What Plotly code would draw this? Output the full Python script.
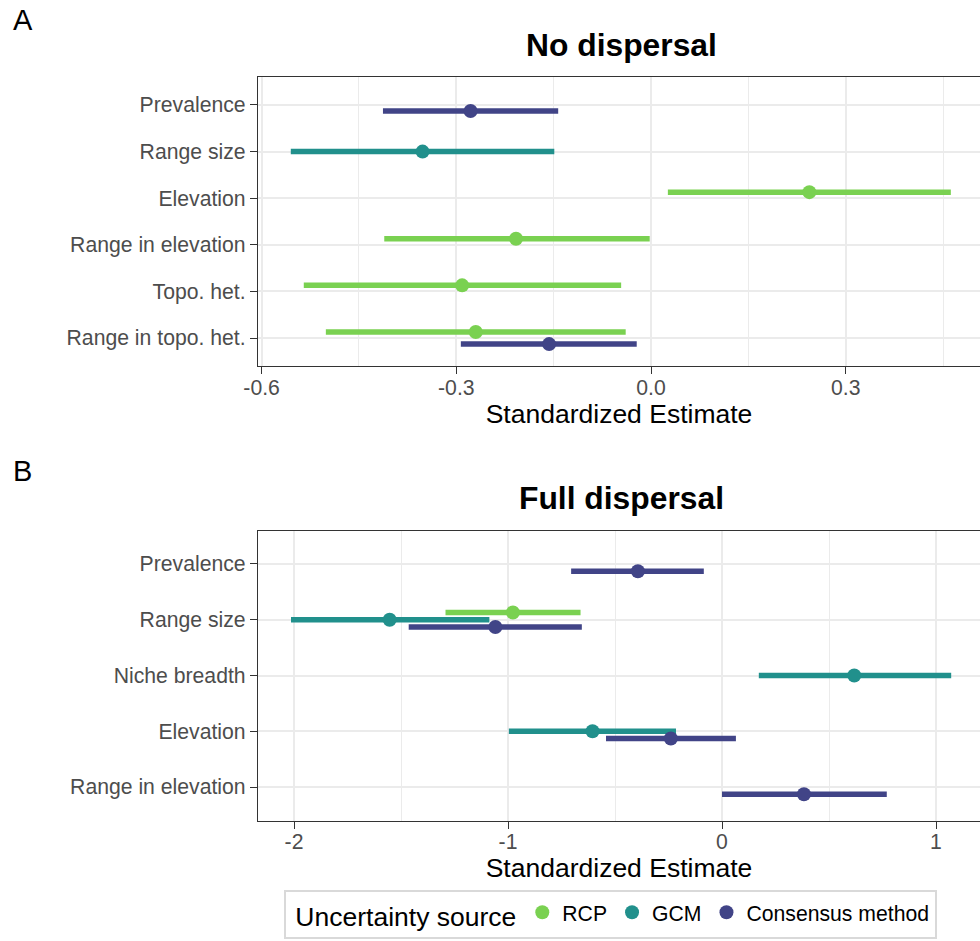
import plotly.graph_objects as go

# ---------------- data ----------------
# Panel A: No dispersal
cats_A = ["Prevalence", "Range size", "Elevation", "Range in elevation", "Topo. het.", "Range in topo. het."]
A_rcp_cat = ["Elevation", "Range in elevation", "Topo. het.", "Range in topo. het."]
A_rcp_est = [0.244, -0.208, -0.291, -0.270]
A_rcp_lo = [0.026, -0.411, -0.535, -0.501]
A_rcp_hi = [0.462, -0.002, -0.046, -0.039]
A_gcm_cat = ["Range size"]
A_gcm_est = [-0.352]
A_gcm_lo = [-0.555]
A_gcm_hi = [-0.149]
A_con_cat = ["Prevalence", "Range in topo. het."]
A_con_est = [-0.278, -0.157]
A_con_lo = [-0.413, -0.293]
A_con_hi = [-0.143, -0.022]
A_xticks = [-0.6, -0.3, 0.0, 0.3]
A_xticklabels = ["-0.6", "-0.3", "0.0", "0.3"]
A_xminor = [-0.45, -0.15, 0.15, 0.45]

# Panel B: Full dispersal
cats_B = ["Prevalence", "Range size", "Niche breadth", "Elevation", "Range in elevation"]
B_rcp_cat = ["Range size"]
B_rcp_est = [-0.977]
B_rcp_lo = [-1.292]
B_rcp_hi = [-0.661]
B_gcm_cat = ["Range size", "Niche breadth", "Elevation"]
B_gcm_est = [-1.553, 0.618, -0.605]
B_gcm_lo = [-2.014, 0.172, -0.996]
B_gcm_hi = [-1.087, 1.071, -0.215]
B_con_cat = ["Prevalence", "Range size", "Elevation", "Range in elevation"]
B_con_est = [-0.393, -1.059, -0.239, 0.383]
B_con_lo = [-0.705, -1.464, -0.542, 0.000]
B_con_hi = [-0.085, -0.655, 0.065, 0.770]
B_xticks = [-2, -1, 0, 1]
B_xticklabels = ["-2", "-1", "0", "1"]
B_xminor = [-1.5, -0.5, 0.5]

sources = ["RCP", "GCM", "Consensus method"]

# ---------------- style ----------------
FONT = "Liberation Sans, Arial, Helvetica, sans-serif"
W, H = 980, 941
colors = {"RCP": "#7AD151", "GCM": "#21908C", "Consensus method": "#414487"}
dodge = {"RCP": 0.13, "GCM": 0.0, "Consensus method": -0.13}
BASE = 26.5


def px(v):
    return v / W


def py(v):
    return 1 - v / H


fig = go.Figure()

panels = [
    ("", cats_A, {
        "RCP": (A_rcp_cat, A_rcp_est, A_rcp_lo, A_rcp_hi),
        "GCM": (A_gcm_cat, A_gcm_est, A_gcm_lo, A_gcm_hi),
        "Consensus method": (A_con_cat, A_con_est, A_con_lo, A_con_hi),
    }, True),
    ("2", cats_B, {
        "RCP": (B_rcp_cat, B_rcp_est, B_rcp_lo, B_rcp_hi),
        "GCM": (B_gcm_cat, B_gcm_est, B_gcm_lo, B_gcm_hi),
        "Consensus method": (B_con_cat, B_con_est, B_con_lo, B_con_hi),
    }, False),
]

for suffix, cats, data, showleg in panels:
    n = len(cats)
    for src in sources:
        cat, est, lo, hi = data[src]
        ys = [n - cats.index(c) + dodge[src] for c in cat]
        fig.add_trace(go.Scatter(
            x=est, y=ys, mode="markers", name=src, legendgroup=src,
            showlegend=showleg,
            marker=dict(color=colors[src], size=14),
            error_x=dict(type="data", symmetric=False,
                         array=[h - e for e, h in zip(est, hi)],
                         arrayminus=[e - l for e, l in zip(est, lo)],
                         color=colors[src], thickness=5.5, width=0),
            xaxis="x" + suffix, yaxis="y" + suffix,
        ))


def xaxis_style(rng, tv, tt, minor, anchor):
    return dict(
        domain=[px(258), 1], anchor=anchor, range=rng, automargin=False,
        tickvals=tv, ticktext=tt,
        showgrid=True, gridcolor="#EBEBEB", gridwidth=1.6,
        minor=dict(tickvals=minor, showgrid=True, gridcolor="#EBEBEB", gridwidth=0.8),
        ticks="outside", ticklen=7, tickwidth=1.3, tickcolor="#333333",
        ticklabelstandoff=-5,
        showline=True, mirror=True, linecolor="#333333", linewidth=1.3,
        zeroline=False,
        tickfont=dict(size=21.2, color="#4D4D4D", family=FONT),
        title=dict(text="Standardized Estimate", font=dict(size=BASE, color="black", family=FONT), standoff=6),
    )


def yaxis_style(cats, dom, anchor):
    n = len(cats)
    return dict(
        domain=dom, anchor=anchor, range=[0.4, n + 0.6], automargin=False,
        tickvals=[n - i for i in range(n)], ticktext=cats,
        showgrid=True, gridcolor="#EBEBEB", gridwidth=1.6,
        ticks="outside", ticklen=7, tickwidth=1.3, tickcolor="#333333",
        showline=True, mirror=True, linecolor="#333333", linewidth=1.3,
        zeroline=False,
        tickfont=dict(size=21.2, color="#4D4D4D", family=FONT),
    )


fig.update_layout(
    width=W, height=H,
    margin=dict(l=0, r=0, t=0, b=0, autoexpand=False),
    paper_bgcolor="white", plot_bgcolor="white",
    font=dict(family=FONT, color="black"),
    xaxis=xaxis_style([(258 - 651) / 649, (980 - 651) / 649], A_xticks, A_xticklabels, A_xminor, "y"),
    yaxis=yaxis_style(cats_A, [py(366), py(77)], "x"),
    xaxis2=xaxis_style([(258 - 722) / 214, (980 - 722) / 214], B_xticks, B_xticklabels, B_xminor, "y2"),
    yaxis2=yaxis_style(cats_B, [py(820.5), py(530.5)], "x2"),
    showlegend=True,
    legend=dict(
        orientation="h", x=px(284), xanchor="left", y=py(890), yanchor="top",
        bordercolor="#D9D9D9", borderwidth=2, bgcolor="white",
        font=dict(size=21.2, color="black", family=FONT),
        title=dict(text="&nbsp;Uncertainty source", font=dict(size=BASE, family=FONT), side="left"),
    ),
)

# dashed zero reference lines
for suffix in ["", "2"]:
    fig.add_shape(type="line", xref="x" + suffix, yref="y" + suffix + " domain",
                  x0=0, x1=0, y0=0, y1=1, layer="below",
                  line=dict(color="#777777", width=1, dash="3px,2px"))

# titles and panel labels
fig.add_annotation(text="<b>No dispersal</b>", x=px(621), y=py(45), xref="paper", yref="paper",
                   xanchor="center", yanchor="middle", showarrow=False,
                   font=dict(size=31.8, color="black", family=FONT))
fig.add_annotation(text="<b>Full dispersal</b>", x=px(621), y=py(498), xref="paper", yref="paper",
                   xanchor="center", yanchor="middle", showarrow=False,
                   font=dict(size=31.8, color="black", family=FONT))
fig.add_annotation(text="A", x=px(11), y=py(20), xref="paper", yref="paper",
                   xanchor="left", yanchor="middle", showarrow=False,
                   font=dict(size=29, color="black", family=FONT))
fig.add_annotation(text="B", x=px(11), y=py(471), xref="paper", yref="paper",
                   xanchor="left", yanchor="middle", showarrow=False,
                   font=dict(size=29, color="black", family=FONT))

fig.write_html("out.html")
